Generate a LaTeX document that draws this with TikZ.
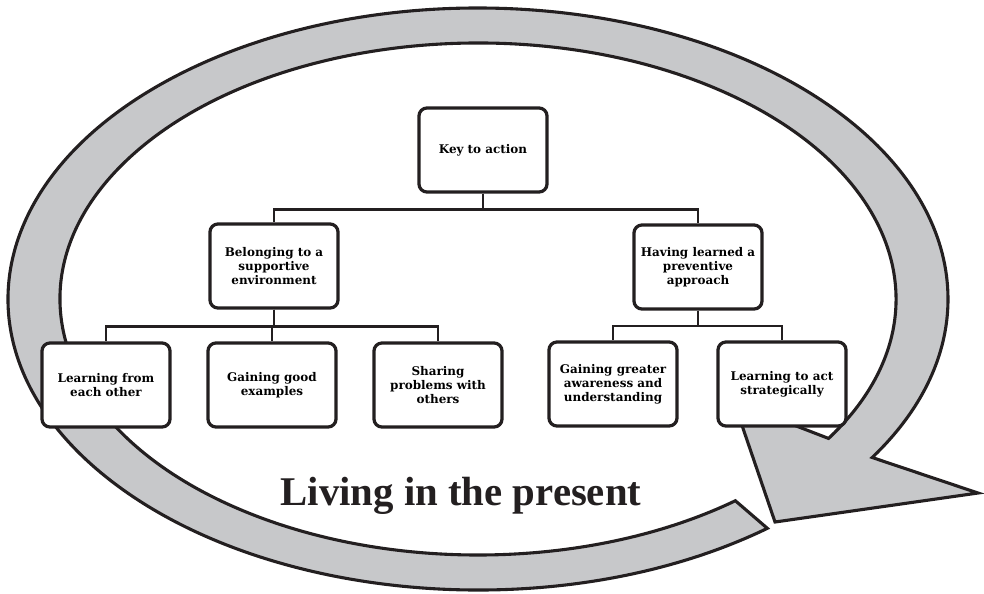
\documentclass[tikz,border=0pt]{standalone}
\usepackage{fontspec}
\setmainfont{DejaVu Serif}
\newfontfamily\titleFont{Liberation Serif}
\usetikzlibrary{positioning}
\tikzstyle{pixels} = [x = 0.025cm, y = -0.025cm]
\definecolor{inkColor}{RGB}{35,31,32}
\definecolor{bandColor}{RGB}{199,200,202}
\tikzstyle{bandStyle} = [draw=inkColor, fill=bandColor, line width=2.2pt, line join=miter]
\tikzstyle{boxStyle} = [draw=inkColor, fill=white, line width=2.3pt, rounded corners=.2cm, minimum width=3.2cm, minimum height=2.1cm, align=center, inner sep=2pt, font=\bfseries\fontsize{8.5}{10.1}\selectfont]
\tikzstyle{treeLine} = [draw=inkColor, line width=1.9pt]
\tikzstyle{titleText} = [anchor=base, text=inkColor, font=\titleFont\bfseries\fontsize{29}{34}\selectfont]
\newcommand{\treeBox}[4]{\node [boxStyle] (#1) at (#2,#3) {#4};}
\newcommand{\ringArc}[4]{arc [start angle=#1, end angle=#2, x radius=#3, y radius=#4]}

\begin{document}
\begin{tikzpicture}[pixels]
\useasboundingbox (0,0) rectangle (984,593);
% the ring, ending in its head
\coordinate (ringCentre) at (478,299);
\coordinate (headTip) at (978,493);
\coordinate (headBase) at (775,522);
\coordinate (headWing) at (734,402);
\filldraw [bandStyle] ([shift={(52:470 and 291)}]ringCentre) \ringArc{52}{393}{470}{291}
  -- (headTip) -- (headBase) -- (headWing)
  -- ([shift={(393:418 and 256)}]ringCentre) \ringArc{393}{52}{418}{256} -- cycle;
% the tree
\treeBox{key}{483}{150}{Key to action}
\treeBox{belonging}{274}{266}{Belonging to a\\supportive\\environment}
\treeBox{having}{698}{267}{Having learned a\\preventive\\approach}
\treeBox{learnFrom}{106}{385}{Learning from\\each other}
\treeBox{gainGood}{272}{385}{Gaining good\\examples}
\treeBox{sharing}{438}{385}{Sharing\\problems with\\others}
\treeBox{gainAware}{613}{384}{Gaining greater\\awareness and\\understanding}
\treeBox{actStrat}{782}{384}{Learning to act\\strategically}
\draw [treeLine] (key.south) -- ++(0,16) -| (belonging.north);
\draw [treeLine] (key.south) -- ++(0,16) -| (having.north);
\foreach \child in {learnFrom, gainGood, sharing} {
  \draw [treeLine] (belonging.south) -- ++(0,17) -| (\child.north);
}
\foreach \child in {gainAware, actStrat} {
  \draw [treeLine] (having.south) -- ++(0,15.5) -| (\child.north);
}
\node [titleText] (present) at (461,505) {Living in the present};
\end{tikzpicture}
\end{document}
